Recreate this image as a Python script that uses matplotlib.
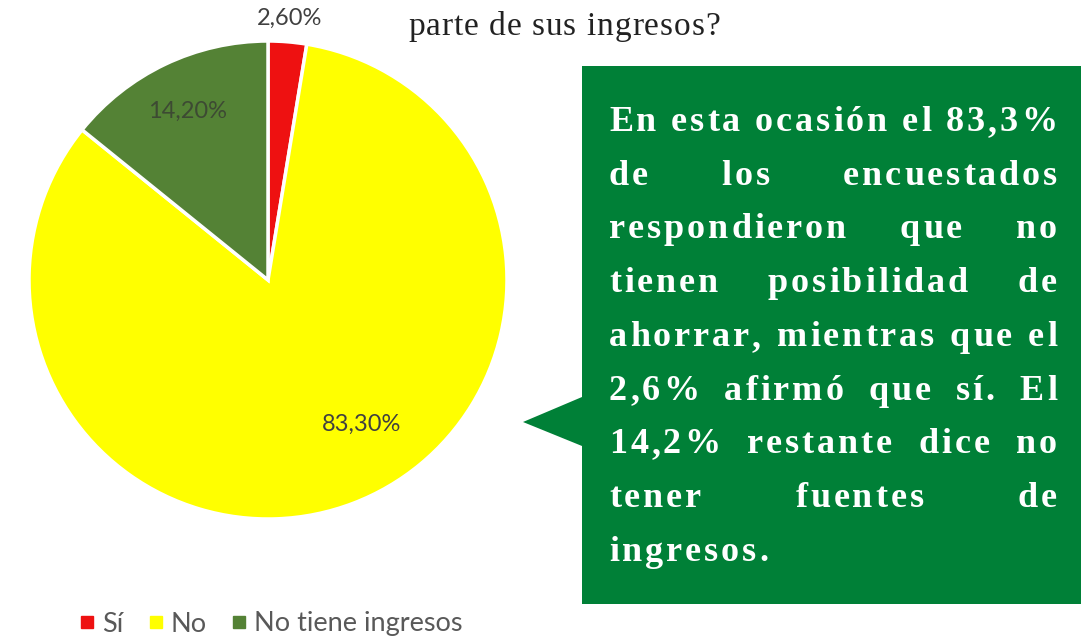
import matplotlib
matplotlib.use("Agg")
import numpy as np
import matplotlib.pyplot as plt
from matplotlib.lines import Line2D
from matplotlib.patches import Polygon
from matplotlib.font_manager import FontProperties, findfont, get_font
try:
    from matplotlib.ft2font import LoadFlags
    NO_HINT = LoadFlags.NO_HINTING
except ImportError:
    from matplotlib.ft2font import LOAD_NO_HINTING as NO_HINT

W, H = 1081, 638
DPI = 100

# datos
categorias = ['Sí', 'No', 'No tiene ingresos']
valores = [2.6, 83.3, 14.2]
etiquetas = ['2,60%', '83,30%', '14,20%']
colores = ['#EE1111', '#FFFF00', '#548235']

titulo = 'parte de sus ingresos?'
lineas = [
    'En esta ocasión el 83,3%',
    'de los encuestados',
    'respondieron que no',
    'tienen posibilidad de',
    'ahorrar, mientras que el',
    '2,6% afirmó que sí. El',
    '14,2% restante dice no',
    'tener fuentes de',
    'ingresos.',
]

fig = plt.figure(figsize=(W / DPI, H / DPI), dpi=DPI)
ax = fig.add_axes([0, 0, 1, 1])


def Y(y):
    # coordenada de pantalla (desde arriba) -> datos
    return H - y


cx, cy, r = 268, 280, 239
wedges, _ = ax.pie(valores, colors=colores, startangle=90, counterclock=False,
                   center=(cx, Y(cy)), radius=r,
                   wedgeprops=dict(edgecolor='white', linewidth=2.5))
ax.set_xlim(0, W)
ax.set_ylim(0, H)
ax.set_aspect('equal')
ax.axis('off')

dist = [1.10, 0.72, 0.78]
desvio = [0, 12, 0]
col_et = ['#404040', '#404040', '#3d4a33']
for w, et, d, s, c in zip(wedges, etiquetas, dist, desvio, col_et):
    th = np.radians((w.theta1 + w.theta2) / 2 + s)
    ax.text(cx + r * d * np.cos(th), Y(cy) + r * d * np.sin(th), et,
            ha='center', va='center', fontsize=17, color=c, family='Lato')

handles = [Line2D([], [], marker='s', ls='none', color=c, markersize=8) for c in colores]
fig.legend(handles, categorias, loc='center left', bbox_to_anchor=(56 / W, Y(624) / H),
           ncol=3, frameon=False, handlelength=0.5, handletextpad=0.3,
           columnspacing=0.95, labelcolor='#595959',
           prop=dict(family='Lato', size=19.5))


def avances(texto, prop):
    f = get_font(findfont(prop))
    f.set_size(prop.get_size_in_points(), DPI)
    res = []
    for ch in texto:
        g = f.load_char(ord(ch), flags=NO_HINT)
        res.append(g.linearHoriAdvance / 65536)
    return res


def dibujar(x, y, texto, prop, t, color):
    for ch, a in zip(texto, avances(texto, prop)):
        if ch != ' ':
            ax.text(x, y, ch, fontproperties=prop, color=color, ha='left', va='baseline')
        x += a + t
    return x


# titulo
p_tit = FontProperties(family='Liberation Serif', size=24)
av = avances(titulo, p_tit)
t_tit = (720 - 408 - sum(av)) / (len(titulo) - 1)
dibujar(408, Y(35), titulo, p_tit, t_tit, '#222222')

# caja verde con flecha
verde = '#008037'
caja = Polygon([(582, Y(66)), (W + 5, Y(66)), (W + 5, Y(604)), (582, Y(604)),
                (582, Y(446)), (523, Y(422)), (582, Y(397))],
               closed=True, facecolor=verde, edgecolor='none')
ax.add_patch(caja)

p_box = FontProperties(family='Liberation Serif', weight='bold', size=26)
x0, x1 = 609, 1057
ancho = x1 - x0
av1 = avances(lineas[0], p_box)
track = (ancho - sum(av1)) / (len(lineas[0]) - 1)
esp = avances(' ', p_box)[0]

for i, linea in enumerate(lineas):
    yb = Y(131 + 53.7 * i)
    palabras = linea.split(' ')
    anchos = [sum(avances(pw, p_box)) + track * (len(pw) - 1) for pw in palabras]
    if i == len(lineas) - 1:
        gap = esp + 2 * track
    else:
        gap = (ancho - sum(anchos)) / (len(palabras) - 1)
    x = x0
    for pw, aw in zip(palabras, anchos):
        dibujar(x, yb, pw, p_box, track, 'white')
        x += aw + gap

fig.savefig('out.png', dpi=DPI)
